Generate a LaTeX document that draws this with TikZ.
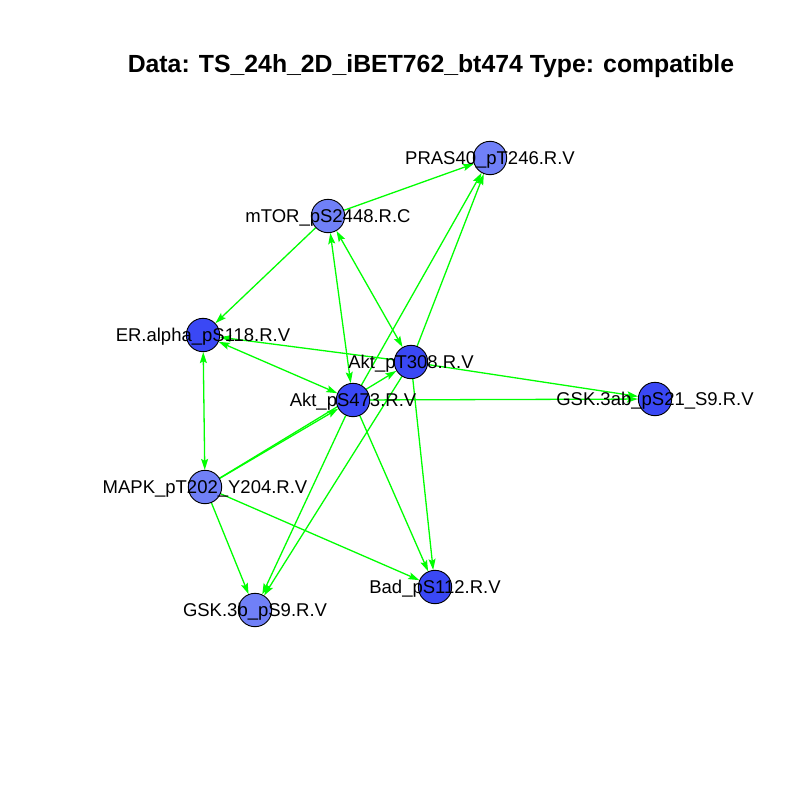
\documentclass[tikz,border=0pt]{standalone}
\usepackage{fontspec}
\setmainfont{Liberation Sans}
\usetikzlibrary{arrows.meta,backgrounds}
\definecolor{edgegreen}{RGB}{0,255,0}
\definecolor{lightnode}{RGB}{112,128,247}
\definecolor{darknode}{RGB}{58,72,245}
\begin{document}
\begin{tikzpicture}[x=1pt,y=-1pt,
  vtx/.style={circle,draw=black,line width=0.9pt,minimum size=33.4pt,inner sep=0pt},
  lt/.style={vtx,fill=lightnode},
  dk/.style={vtx,fill=darknode},
  lab/.style={font=\fontsize{18.5}{20}\selectfont,anchor=base,inner sep=0pt},
  tip/.tip={Stealth[length=11pt,width=7pt,inset=2pt]},
  edge/.style={draw=edgegreen,line width=1.3pt,-tip},
  bedge/.style={draw=edgegreen,line width=1.3pt,tip-tip}]
\useasboundingbox (0,0) rectangle (800,800);
\node[font=\bfseries\fontsize{24.8}{30}\selectfont,anchor=base,inner sep=0pt] (title) at (431,72) {Data: TS\_24h\_2D\_iBET762\_bt474 Type: compatible};
% vertices
\node[lt] (PRAS) at (490,158) {};
\node[lt] (mTOR) at (328,216) {};
\node[dk] (ER) at (203,335) {};
\node[dk] (T308) at (411,362) {};
\node[dk] (S473) at (353,400) {};
\node[dk] (GSKab) at (655,399) {};
\node[lt] (MAPK) at (205,487) {};
\node[lt] (GSKb) at (255,610) {};
\node[dk] (Bad) at (435,587) {};
% edges
\begin{scope}[on background layer]
\fill[white] (0,0) rectangle (800,800);
\draw[edge] (mTOR) -- (PRAS);
\draw[edge] (mTOR) -- (ER);
\draw[bedge] (mTOR) -- (S473);
\draw[bedge] (mTOR) -- (T308);
\draw[edge] (S473) -- (PRAS);
\draw[edge] (T308) -- (PRAS);
\draw[edge] (T308) -- (ER);
\draw[bedge] (ER) -- (S473);
\draw[bedge] (ER) -- (MAPK);
\draw[edge] (MAPK) -- (S473);
\draw[edge] (MAPK) -- (T308);
\draw[edge] (T308) -- (GSKab);
\draw[edge] (S473) -- (GSKab);
\draw[edge] (S473) -- (Bad);
\draw[edge] (T308) -- (Bad);
\draw[edge] (MAPK) -- (Bad);
\draw[edge] (MAPK) -- (GSKb);
\draw[edge] (S473) -- (GSKb);
\draw[edge] (T308) -- (GSKb);
\end{scope}
% labels
\node[lab] (lPRAS) at (490,164) {PRAS40\_pT246.R.V};
\node[lab] (lmTOR) at (328,222) {mTOR\_pS2448.R.C};
\node[lab] (lER) at (203,341) {ER.alpha\_pS118.R.V};
\node[lab] (lT308) at (411,368) {Akt\_pT308.R.V};
\node[lab] (lS473) at (353,406) {Akt\_pS473.R.V};
\node[lab] (lGSKab) at (655,405) {GSK.3ab\_pS21\_S9.R.V};
\node[lab] (lMAPK) at (205,493) {MAPK\_pT202\_Y204.R.V};
\node[lab] (lGSKb) at (255,616) {GSK.3b\_pS9.R.V};
\node[lab] (lBad) at (435,593) {Bad\_pS112.R.V};
\end{tikzpicture}
\end{document}
